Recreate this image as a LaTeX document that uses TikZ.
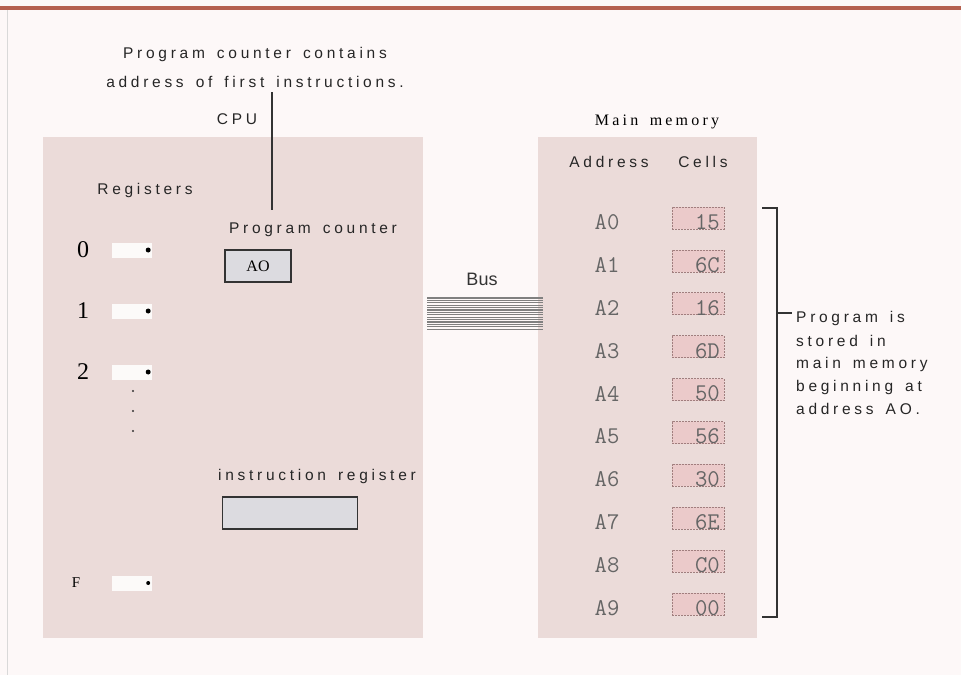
\documentclass[tikz,border=0pt]{standalone}
\usepackage{fontspec}
\newfontfamily\spaced[LetterSpace=24,WordSpace=1.5]{Liberation Sans}
\newfontfamily\plainsans{Liberation Sans}
\newfontfamily\serifsp[LetterSpace=20,WordSpace=1.6]{Liberation Serif}
\newfontfamily\plainserif{Liberation Serif}
\definecolor{bgcol}{HTML}{FDF8F8}
\definecolor{panelcol}{HTML}{EBDBD9}
\definecolor{topbar}{HTML}{B5604F}
\definecolor{cellfill}{HTML}{EBCACA}
\definecolor{celledge}{HTML}{A07E7E}
\definecolor{boxfill}{HTML}{DCDBE0}
\definecolor{memtext}{HTML}{666666}
\tikzset{
  panel/.style={fill=panelcol, draw=none, anchor=north west, inner sep=0},
  lbl/.style={font=\spaced\fontsize{15.5}{18}\selectfont, inner sep=0, text=black!85},
  reglbl/.style={font=\plainserif\fontsize{24}{26}\selectfont, inner sep=0},
  regbox/.style={fill=white!85!panelcol, draw=none, minimum width=40, minimum height=15, inner sep=0},
  regdot/.style={circle, fill=black, inner sep=0, minimum size=5},
  cpubox/.style={fill=boxfill, draw=black!80, line width=1.4, inner sep=0},
  memlbl/.style={font=\ttfamily\fontsize{24}{26}\selectfont, text=memtext, inner sep=0},
  cellbox/.style={fill=cellfill, draw=celledge, dashed, dash pattern=on 2pt off 1pt, line width=0.7, minimum width=52, minimum height=22, inner sep=0},
  bracket/.style={draw=black!80, line width=1.2},
}
\begin{document}
\begin{tikzpicture}[x=1pt,y=-1pt]
\useasboundingbox (0,0) rectangle (961,675);
\fill[bgcol] (0,0) rectangle (961,675);
\draw[topbar, line width=3.5] (0,8) -- (961,8);
\draw[black!15, line width=0.8] (7,10) -- (7,675);

% panels
\node (cpu) [panel, minimum width=380, minimum height=501] at (43,137) {};
\node (mem) [panel, minimum width=219, minimum height=501] at (538,137) {};

% top note
\node (note1) [lbl] at (255,54) {Program counter contains};
\node (note2) [lbl] at (255,82) {address of first instructions.};
\coordinate (ltop) at (272,92);
\coordinate (lbot) at (272,210);
\draw[black!80, line width=1.1] (ltop) -- (lbot);

\node (cpulbl) [lbl] at (237,119) {CPU};
\node (reglabel) [lbl] at (145,190) {Registers};
\node (pclbl) [lbl] at (313,230) {Program counter};
\node (pc) [cpubox, minimum width=66, minimum height=32] at (258,266) {\plainserif\fontsize{16}{18}\selectfont AO};
\node (irlbl) [lbl] at (317,476) {instruction register};
\node (ir) [cpubox, minimum width=135, minimum height=32] at (290,513) {};

% registers
\foreach \n/\yy/\lab in {r0/250/0, r1/311/1, r2/372/2}{
  \node (\n lab) [reglbl] at (83,\yy) {\lab};
  \node (\n) [regbox] at (132,\yy) {};
  \node (\n dot) [regdot] at ([xshift=-4pt]\n.east) {};
}
\node (rFlab) [font=\plainserif\fontsize{15}{17}\selectfont, inner sep=0] at (76,583) {F};
\node (rF) [regbox] at (132,583) {};
\node (rFdot) [regdot, minimum size=4] at ([xshift=-4pt]rF.east) {};
\foreach \yy/\nm in {391/d1, 411/d2, 431/d3}
  \node (\nm) [circle, fill=black!80, inner sep=0, minimum size=2.4] at (133,\yy) {};

% bus
\node (bus) [font=\plainsans\fontsize{18}{20}\selectfont, inner sep=0, text=black!80] at (482,279) {Bus};
\foreach \k in {0,...,13}{
  \pgfmathsetmacro{\by}{298+\k*2.4}
  \draw[black!50, line width=1.2] (427,\by) -- (543,\by);
}

% main memory
\node (memlbl) [font=\serifsp\fontsize{16}{18}\selectfont, inner sep=0] at (657,122) {Main memory};
\node (addr) [lbl] at (609,162) {Address};
\node (cells) [lbl] at (703,162) {Cells};
\foreach \a/\v [count=\i from 0] in {A0/15,A1/6C,A2/16,A3/6D,A4/50,A5/56,A6/30,A7/6E,A8/C0,A9/00}{
  \pgfmathsetmacro{\ry}{222+42.9*\i}
  \node (a\i) [memlbl] at (607,\ry) {\a};
  \node (c\i) [cellbox] at (698,\ry-4) {};
  \node (v\i) [memlbl, anchor=east] at (720,\ry) {\v};
}

% bracket
\coordinate (bt1) at (762,208);
\coordinate (bt2) at (777,208);
\coordinate (bb1) at (762,617);
\coordinate (bb2) at (777,617);
\coordinate (bm1) at (777,313);
\coordinate (bm2) at (792,313);
\draw[bracket] (bt1) -- (bt2) -- (bb2) -- (bb1);
\draw[bracket] (bm1) -- (bm2);
\node (p1) [lbl, anchor=west] at (796,318) {Program is};
\node (p2) [lbl, anchor=west] at (796,341) {stored in};
\node (p3) [lbl, anchor=west] at (796,364) {main memory};
\node (p4) [lbl, anchor=west] at (796,387) {beginning at};
\node (p5) [lbl, anchor=west] at (796,409) {address AO.};
\end{tikzpicture}
\end{document}
